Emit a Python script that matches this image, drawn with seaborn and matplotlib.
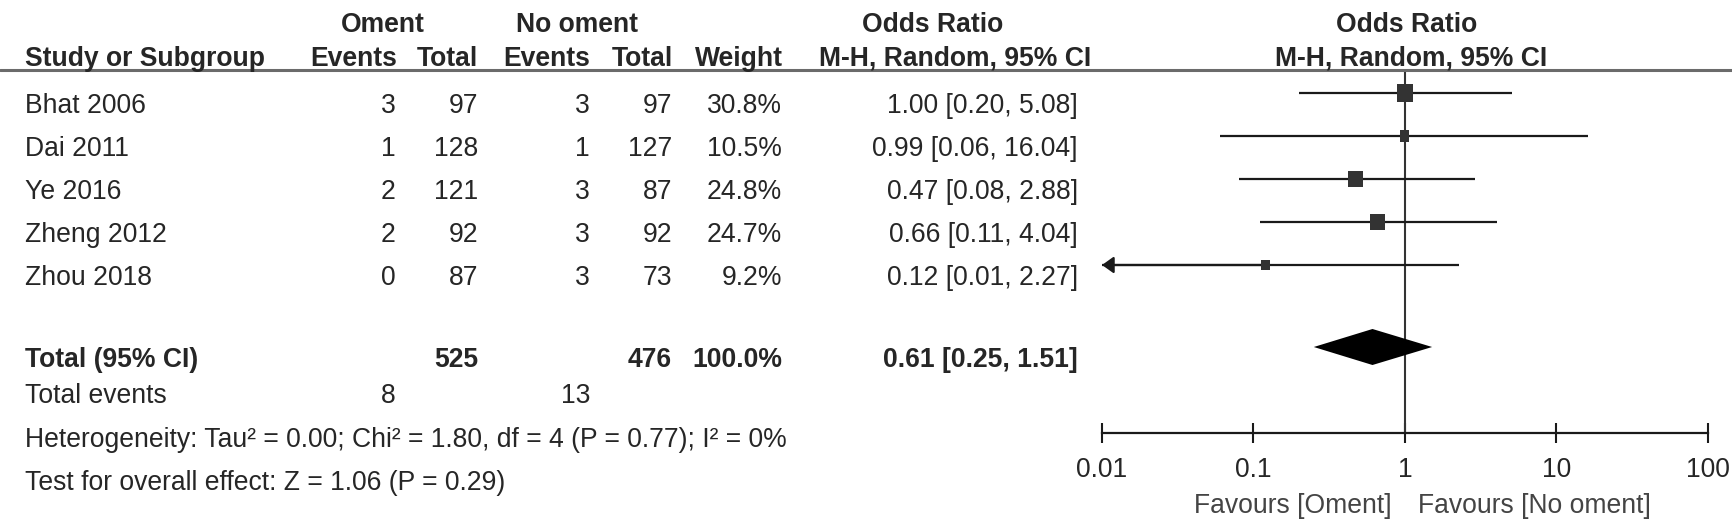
import numpy as np
import pandas as pd
import matplotlib
matplotlib.use("Agg")
import matplotlib.pyplot as plt
from matplotlib.path import Path
import seaborn as sns

# ---------------- data ----------------
studies = ["Bhat 2006", "Dai 2011", "Ye 2016", "Zheng 2012", "Zhou 2018"]
oment_events = [3, 1, 2, 2, 0]
oment_total = [97, 128, 121, 92, 87]
no_events = [3, 1, 3, 3, 3]
no_total = [97, 127, 87, 92, 73]
weights = [30.8, 10.5, 24.8, 24.7, 9.2]
or_est = [1.00, 0.99, 0.47, 0.66, 0.12]
ci_low = [0.20, 0.06, 0.08, 0.11, 0.01]
ci_high = [5.08, 16.04, 2.88, 4.04, 2.27]

total_oment = 525
total_no = 476
total_weight = 100.0
total_or = 0.61
total_low = 0.25
total_high = 1.51
events_oment = 8
events_no = 13
heterogeneity = "Heterogeneity: Tau² = 0.00; Chi² = 1.80, df = 4 (P = 0.77); I² = 0%"
overall = "Test for overall effect: Z = 1.06 (P = 0.29)"

axis_ticks = [0.01, 0.1, 1, 10, 100]
axis_ticklabels = ["0.01", "0.1", "1", "10", "100"]
favours = ["Favours [Oment]", "Favours [No oment]"]

# ---------------- style ----------------
sns.set_theme(style="white")
plt.rcParams["font.family"] = ["Liberation Sans", "DejaVu Sans"]

W, H = 1733, 524
FS = 19.1
TC = "#262626"
LC = "#1a1a1a"

fig = plt.figure(figsize=(W / 100, H / 100), dpi=100)
bg = fig.add_axes([0, 0, 1, 1])
bg.set_xlim(0, W)
bg.set_ylim(H, 0)
bg.axis("off")


def txt(x, y, s, ha="right", bold=False, color=TC):
    bg.text(x, y, s, ha=ha, va="baseline", fontsize=FS,
            fontweight="bold" if bold else "normal", color=color)


# header
txt(383, 32, "Oment", ha="center", bold=True)
txt(577, 32, "No oment", ha="center", bold=True)
txt(933, 32, "Odds Ratio", ha="center", bold=True)
txt(1407, 32, "Odds Ratio", ha="center", bold=True)

txt(25, 66, "Study or Subgroup", ha="left", bold=True)
txt(397, 66, "Events", bold=True)
txt(478, 66, "Total", bold=True)
txt(590, 66, "Events", bold=True)
txt(673, 66, "Total", bold=True)
txt(783, 66, "Weight", bold=True)
txt(955, 66, "M-H, Random, 95% CI", ha="center", bold=True)
txt(1411, 66, "M-H, Random, 95% CI", ha="center", bold=True)
bg.axhline(70, color="#6b6b6b", lw=2.2)

# study rows
for i, name in enumerate(studies):
    yb = 113 + 43 * i
    txt(25, yb, name, ha="left")
    txt(396, yb, str(oment_events[i]))
    txt(478, yb, str(oment_total[i]))
    txt(590, yb, str(no_events[i]))
    txt(672, yb, str(no_total[i]))
    txt(782, yb, f"{weights[i]:.1f}%")
    txt(1078, yb, f"{or_est[i]:.2f} [{ci_low[i]:.2f}, {ci_high[i]:.2f}]")

# totals
txt(25, 367, "Total (95% CI)", ha="left", bold=True)
txt(478, 367, str(total_oment), bold=True)
txt(672, 367, str(total_no), bold=True)
txt(782, 367, f"{total_weight:.1f}%", bold=True)
txt(1078, 367, f"{total_or:.2f} [{total_low:.2f}, {total_high:.2f}]", bold=True)
txt(25, 403, "Total events", ha="left")
txt(396, 403, str(events_oment))
txt(590, 403, str(events_no))
txt(25, 447, heterogeneity, ha="left")
txt(25, 490, overall, ha="left")

txt(1392, 513, favours[0], ha="right", color="#444444")
txt(1418, 513, favours[1], ha="left", color="#444444")

# ---------------- forest axes ----------------
ROW = 43.0
Y0 = 93.0
TOP, BOT = 72.0, 433.0
ax = fig.add_axes([1102 / W, 1 - BOT / H, (1708 - 1102) / W, (BOT - TOP) / H])
ax.patch.set_alpha(0)
ax.set_xscale("log")

rows = np.arange(len(studies))
ax.axvline(1, color="#333333", lw=1.5, zorder=1)
ax.hlines(rows, ci_low, ci_high, color=LC, lw=1.6, zorder=2)

df = pd.DataFrame({"OR": or_est, "row": rows, "weight": weights})
rect = Path([(-0.85, -1), (0.85, -1), (0.85, 1), (-0.85, 1), (-0.85, -1)],
            [Path.MOVETO, Path.LINETO, Path.LINETO, Path.LINETO, Path.CLOSEPOLY])
sns.scatterplot(data=df, x="OR", y="row", size="weight",
                sizes=(6 * min(weights), 6 * max(weights)),
                size_norm=(min(weights), max(weights)),
                marker=rect, color="#333333", linewidth=0, legend=False,
                ax=ax, zorder=3)

xmin, xmax = axis_ticks[0], axis_ticks[-1]
for i in rows:
    if ci_low[i] <= xmin:
        ax.annotate("", xy=(xmin, i), xytext=(or_est[i], i),
                    arrowprops=dict(arrowstyle="-|>,head_length=0.7,head_width=0.5",
                                    color=LC, lw=1.6, shrinkA=0, shrinkB=0,
                                    mutation_scale=10),
                    annotation_clip=False, zorder=2)

rt = (347 - Y0) / ROW
h = 18 / ROW
ax.fill([total_low, total_or, total_high, total_or], [rt, rt - h, rt, rt + h],
        color="black", lw=0, zorder=3)

ax.set_xlim(xmin, xmax)
ax.set_ylim((BOT - Y0) / ROW, (TOP - Y0) / ROW)
for s in ["top", "left", "right"]:
    ax.spines[s].set_visible(False)
ax.spines["bottom"].set_linewidth(1.6)
ax.spines["bottom"].set_color(LC)
ax.set_xticks(axis_ticks)
ax.set_xticklabels(axis_ticklabels)
ax.minorticks_off()
ax.tick_params(axis="x", which="major", direction="inout", length=14.4, width=1.5,
               color=LC, pad=10, labelsize=FS, labelcolor=TC, bottom=True)
ax.set_yticks([])
ax.set_xlabel("")
ax.set_ylabel("")
ax.grid(False)

fig.savefig("out.png", dpi=100)
